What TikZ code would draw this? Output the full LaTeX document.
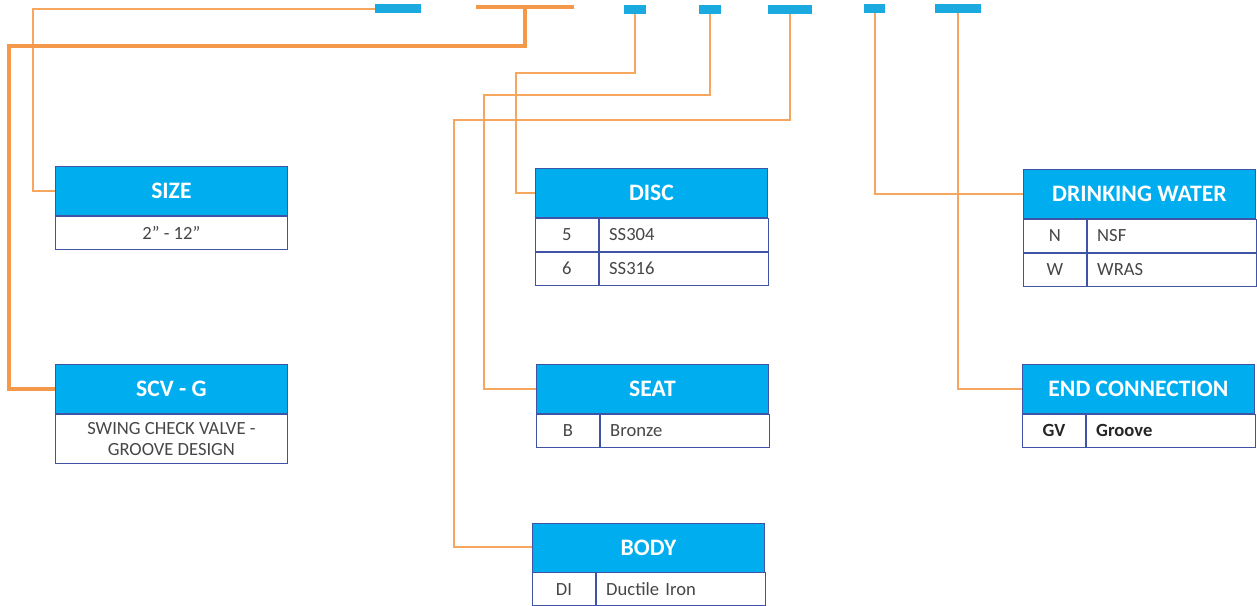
\documentclass[tikz,border=0pt]{standalone}
\usepackage{fontspec}
\setmainfont{Carlito}
\usetikzlibrary{positioning}
\definecolor{cHead}{RGB}{0,174,239}
\definecolor{cTag}{RGB}{27,170,224}
\definecolor{cLine}{RGB}{64,84,165}
\definecolor{cOrange}{RGB}{247,166,96}
\definecolor{cOrangeDk}{RGB}{244,152,74}
\definecolor{cText}{RGB}{70,70,70}

\begin{document}
\begin{tikzpicture}[x=0.5pt, y=-0.5pt,
            hd/.style={draw=cLine, fill=cHead, text=white, font=\bfseries\fontsize{11.8}{13}\selectfont, minimum width=116pt, minimum height=24.5pt, inner sep=0pt},
            kc/.style={draw=cLine, text=cText, font=\fontsize{9.3}{10}\selectfont, minimum width=31.5pt, minimum height=16.5pt, inner sep=0pt},
            vc/.style={draw=cLine, text=cText, font=\fontsize{9.3}{10}\selectfont, minimum width=84.5pt, minimum height=16.5pt, inner xsep=5pt, inner ysep=0pt, text width=74.5pt, align=left},
            tg/.style={fill=cTag, minimum height=4.5pt, inner sep=0pt},
            ln/.style={draw=cOrange, line width=1pt},
            lnthick/.style={draw=cOrangeDk, line width=2pt}]
            \useasboundingbox (0,0) rectangle (1257,605);
            % code tags along the top
            \node[tg, minimum width=23pt]   (tagsize) at (398,8.5) {};
            \node[fill=cOrangeDk, minimum width=49pt, minimum height=2pt, inner sep=0pt] (tagscv) at (525,7) {};
            \node[tg, minimum width=11pt]   (tagdisc) at (635,9.5) {};
            \node[tg, minimum width=11pt]   (tagseat) at (710,9.5) {};
            \node[tg, minimum width=22pt]   (tagbody) at (790,9.5) {};
            \node[tg, minimum width=10.5pt] (tagdw)   at (874.5,8.5) {};
            \node[tg, minimum width=23pt]   (tagec)   at (958,8.5) {};
            % SIZE
            \node[hd, anchor=north west] (size) at (55,166) {SIZE};
            \node[kc, minimum width=116pt, below right=0pt of size.south west] (size1) {2” - 12”};
            % SCV - G
            \node[hd, anchor=north west] (scv) at (55,364) {SCV - G};
            \node[kc, minimum width=116pt, minimum height=24.5pt, align=center, font=\fontsize{9.3}{10.5}\selectfont, below right=0pt of scv.south west] (scv1) {SWING CHECK VALVE -\\GROOVE DESIGN};
            % DISC
            \node[hd, anchor=north west] (disc) at (535,168) {DISC};
            \node[kc, below right=0pt of disc.south west] (disc1) {5};
            \node[vc, right=0pt of disc1] (disc1v) {SS304};
            \node[kc, below=0pt of disc1] (disc2) {6};
            \node[vc, right=0pt of disc2] (disc2v) {SS316};
            % SEAT
            \node[hd, anchor=north west] (seat) at (536,364) {SEAT};
            \node[kc, below right=0pt of seat.south west] (seat1) {B};
            \node[vc, right=0pt of seat1] (seat1v) {Bronze};
            % BODY
            \node[hd, anchor=north west] (body) at (532,522.5) {BODY};
            \node[kc, below right=0pt of body.south west] (body1) {DI};
            \node[vc, right=0pt of body1] (body1v) {Ductile Iron};
            % DRINKING WATER
            \node[hd, anchor=north west] (dw) at (1023,169) {DRINKING WATER};
            \node[kc, below right=0pt of dw.south west] (dw1) {N};
            \node[vc, right=0pt of dw1] (dw1v) {NSF};
            \node[kc, below=0pt of dw1] (dw2) {W};
            \node[vc, right=0pt of dw2] (dw2v) {WRAS};
            % END CONNECTION
            \node[hd, anchor=north west] (ec) at (1022,364) {END CONNECTION};
            \node[kc, text=black!85, font=\bfseries\fontsize{9.3}{10}\selectfont, below right=0pt of ec.south west] (ec1) {GV};
            \node[vc, text=black!85, font=\bfseries\fontsize{9.3}{10}\selectfont, right=0pt of ec1] (ec1v) {Groove};
            % leader lines
            \draw[ln] (tagsize.west) -- ++(-342,0) |- (size.west);
            \draw[lnthick] (tagscv.center) -- ++(0,39) -- ++(-516,0) |- (scv.west);
            \draw[ln] (tagdisc.south) -- ++(0,59) -- ++(-119,0) |- (disc.west);
            \draw[ln] (tagseat.south) -- ++(0,81) -- ++(-226,0) |- (seat.west);
            \draw[ln] (tagbody.south) -- ++(0,106) -- ++(-336,0) |- (body.west);
            \draw[ln] (tagdw.south) |- (dw.west);
            \draw[ln] (tagec.south) |- (ec.west);
        \end{tikzpicture}
\end{document}
